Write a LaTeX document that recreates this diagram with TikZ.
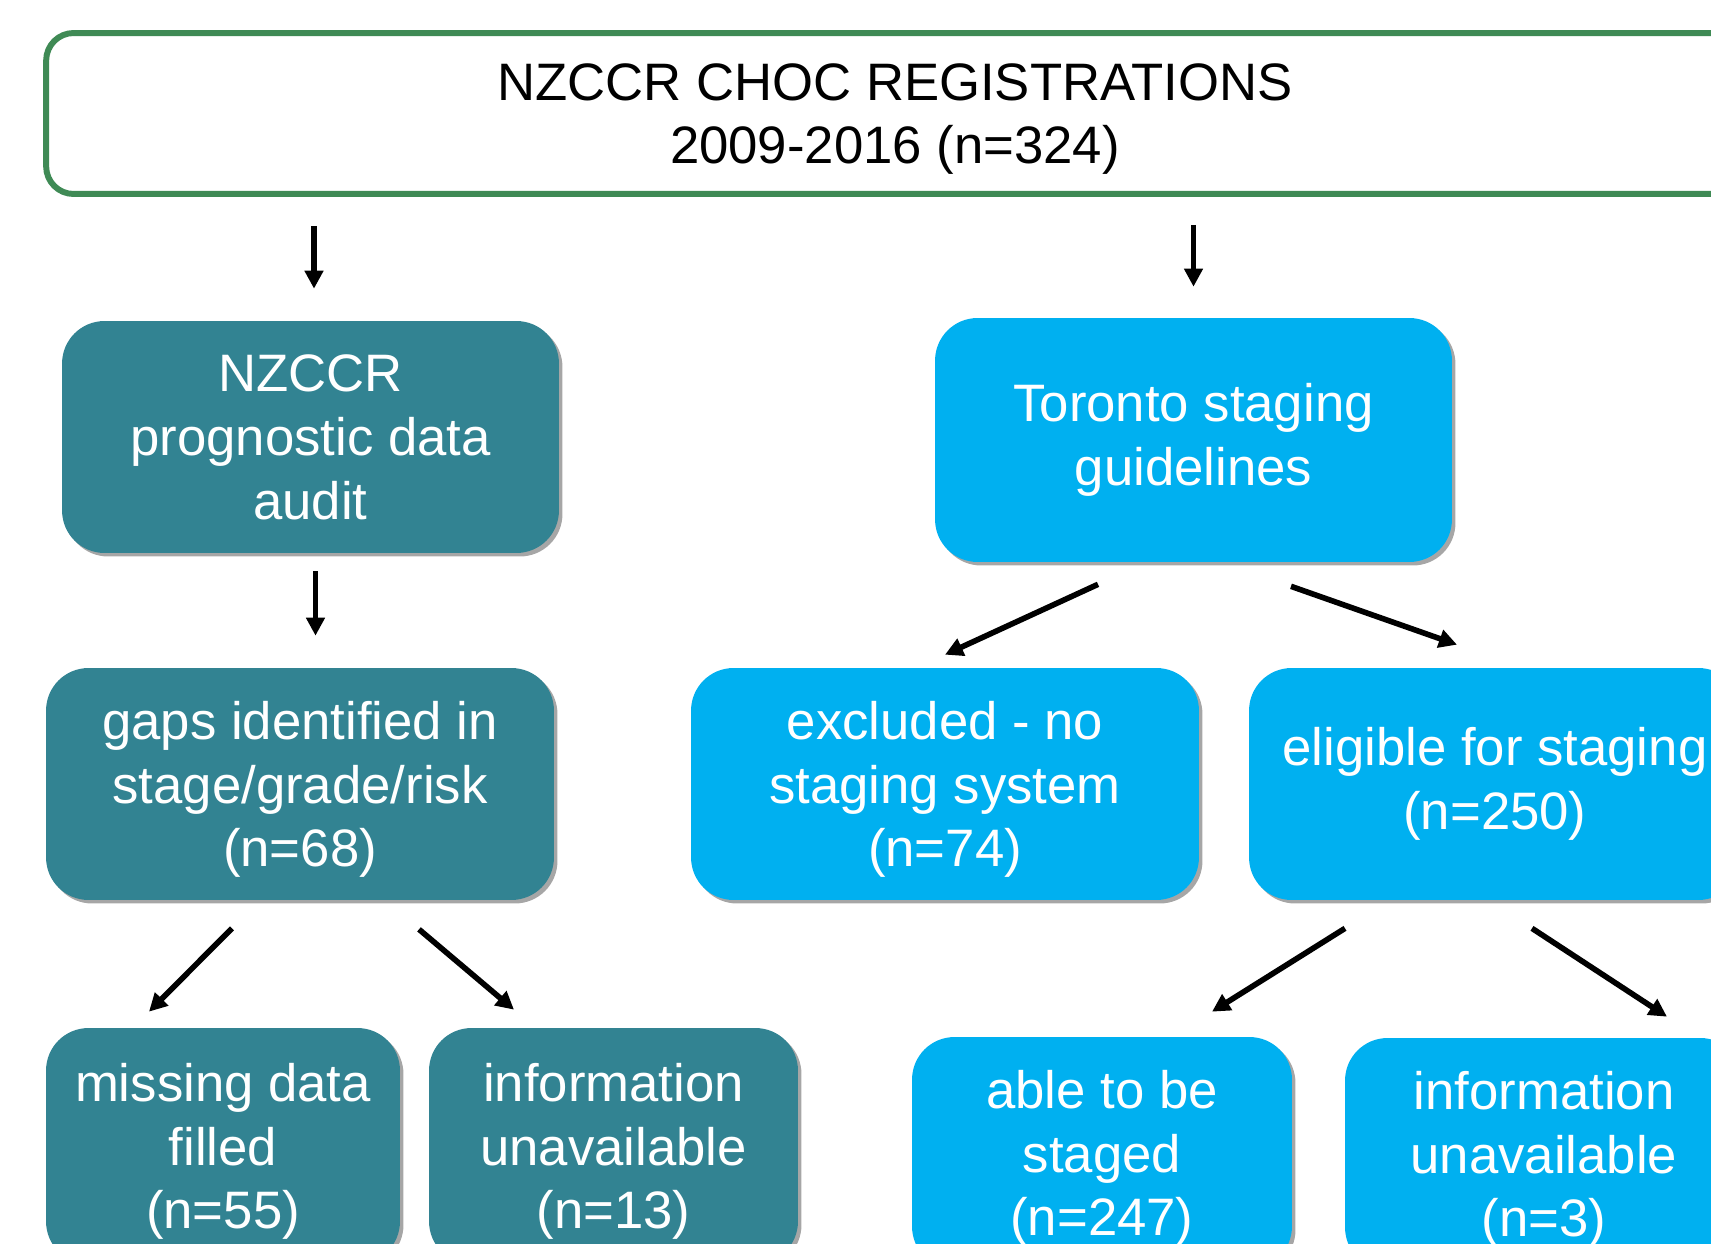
\documentclass[tikz,border=0pt]{standalone}
\usepackage{fontspec}
\setmainfont{Liberation Sans}
\usetikzlibrary{arrows.meta,shadows}
\definecolor{regteal}{RGB}{50,131,146}
\definecolor{regcyan}{RGB}{0,176,240}
\definecolor{reggreen}{RGB}{63,138,85}
\tikzset{
  box/.style={rounded corners=0.85cm, text=white, align=center, inner sep=0pt, text depth=0pt,
    font=\fontsize{30}{36.3}\selectfont,
    drop shadow={shadow xshift=0.07cm, shadow yshift=-0.07cm, opacity=0.35, fill=black}},
  tealbox/.style={box, fill=regteal},
  cyanbox/.style={box, fill=regcyan},
  arr/.style={line width=3.2pt, -{Triangle[length=0.36cm, width=0.36cm]}},
}
\begin{document}
\begin{tikzpicture}[x=0.02cm, y=-0.02cm]
  \useasboundingbox (0,0) rectangle (1711,1244);
  \node[draw=reggreen, line width=3.4pt, rounded corners=0.55cm, fill=white, align=center,
    text depth=0pt, font=\fontsize{30}{36.3}\selectfont, minimum width=33.96cm, minimum height=3.22cm]
    (top) at (895,113.5) {NZCCR CHOC REGISTRATIONS\\2009-2016 (n=324)};
  \node[tealbox, minimum width=9.94cm, minimum height=4.64cm] (audit) at (310.5,437)
    {NZCCR\\prognostic data\\audit};
  \node[cyanbox, text depth=, minimum width=10.34cm, minimum height=4.88cm] (toronto) at (1193.5,440)
    {Toronto staging\\guidelines};
  \node[tealbox, minimum width=10.16cm, minimum height=4.64cm] (gaps) at (300,784)
    {gaps identified in\\stage/grade/risk\\(n=68)};
  \node[cyanbox, minimum width=10.16cm, minimum height=4.64cm] (excl) at (945,784)
    {excluded - no\\staging system\\(n=74)};
  \node[cyanbox, text depth=, minimum width=9.84cm, minimum height=4.64cm] (elig) at (1495,784)
    {eligible for staging\\(n=250)};
  \node[tealbox, minimum width=7.08cm, minimum height=4.72cm] (miss) at (223,1146)
    {missing data\\filled\\(n=55)};
  \node[tealbox, minimum width=7.38cm, minimum height=4.72cm] (info13) at (613.5,1146)
    {information\\unavailable\\(n=13)};
  \node[cyanbox, minimum width=7.6cm, minimum height=4.64cm] (able) at (1102,1153)
    {able to be\\staged\\(n=247)};
  \node[cyanbox, minimum width=7.96cm, minimum height=4.64cm] (info3) at (1544,1154)
    {information\\unavailable\\(n=3)};
  \draw[arr, shorten <=0.58cm, shorten >=0.64cm] ([xshift=0.07cm]audit.north |- top.south) -- ([xshift=0.07cm]audit.north);
  \draw[arr, shorten <=0.56cm, shorten >=0.62cm] (toronto.north |- top.south) -- (toronto.north);
  \draw[arr, shorten <=0.36cm, shorten >=0.64cm] ([xshift=0.1cm]audit.south) -- ([xshift=0.1cm]audit.south |- gaps.north);
  \draw[arr] ([shift={(-95.5,22)}]toronto.south) -- ([shift={(0,-13)}]excl.north);
  \draw[arr] ([shift={(97.5,24)}]toronto.south) -- ([shift={(-38,-23)}]elig.north);
  \draw[arr] ([shift={(-68,28)}]gaps.south) -- ([shift={(-74,-16)}]miss.north);
  \draw[arr] ([shift={(119,29)}]gaps.south) -- ([shift={(-99.5,-18)}]info13.north);
  \draw[arr] ([shift={(-150,28)}]elig.south) -- ([shift={(110,-25)}]able.north);
  \draw[arr] ([shift={(37,28)}]elig.south) -- ([shift={(123,-21)}]info3.north);
\end{tikzpicture}
\end{document}
